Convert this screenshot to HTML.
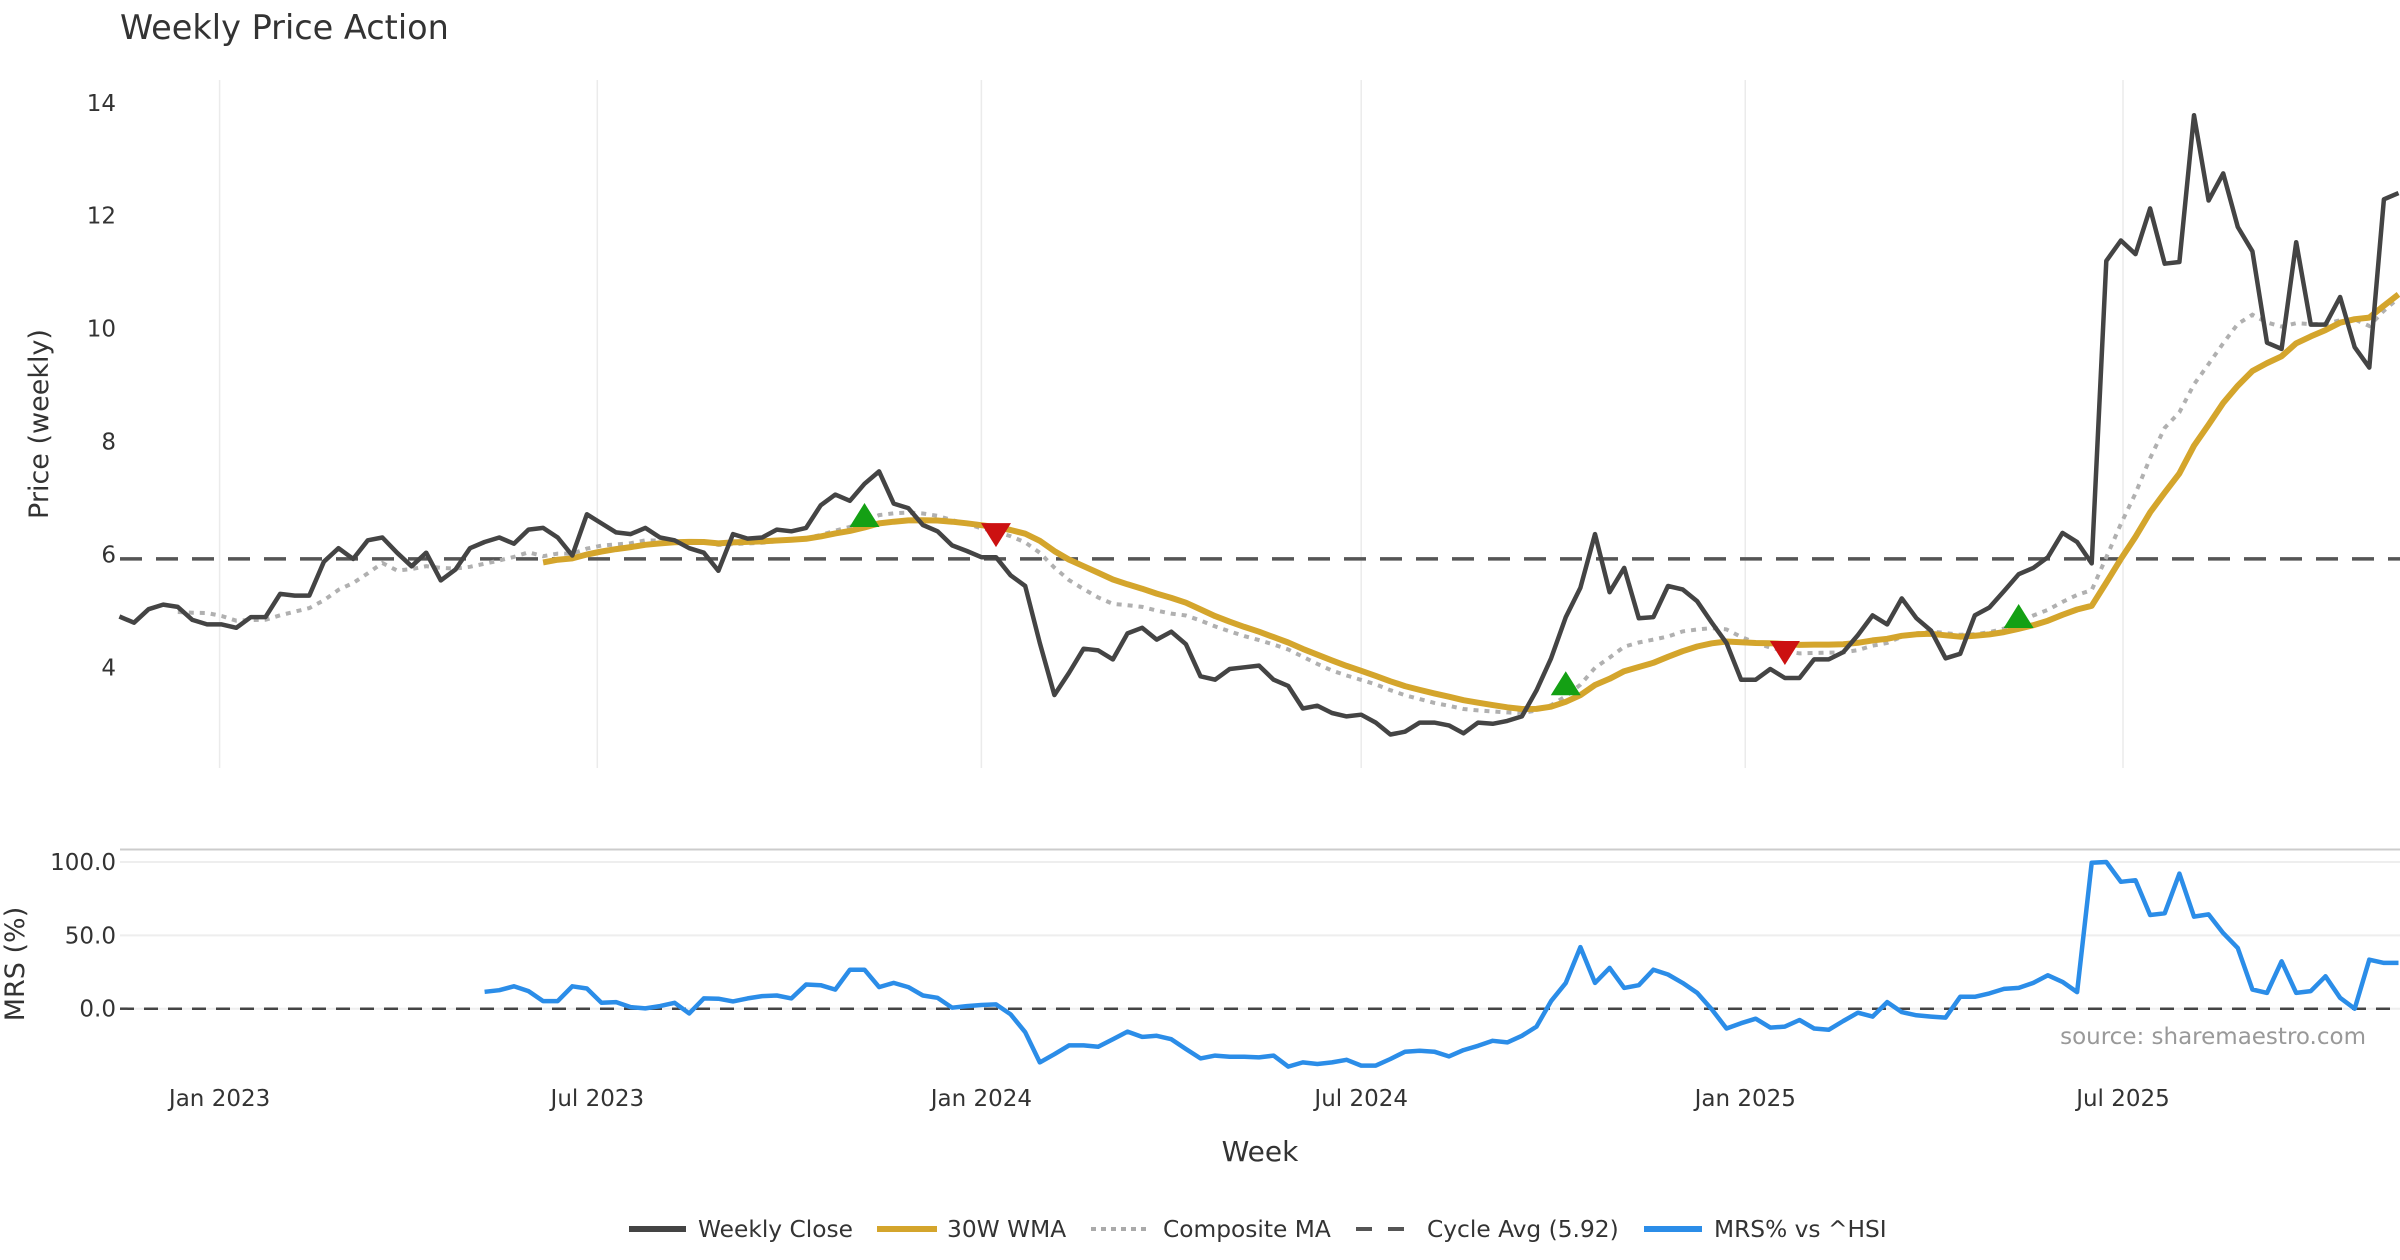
<!DOCTYPE html>
<html><head><meta charset="utf-8"><style>
html,body{margin:0;padding:0;background:#fff;}
svg{display:block;font-family:"DejaVu Sans","Liberation Sans",sans-serif;}
</style></head><body>
<svg id="chart" width="2400" height="1260" viewBox="0 0 2400 1260" xmlns="http://www.w3.org/2000/svg">
<rect width="2400" height="1260" fill="#fff"/>
<text x="120" y="39" font-size="33.5" fill="#333">Weekly Price Action</text>
<g id="grid"></g>
<g id="price"></g>
<g id="mrs"></g>
<g id="axes"></g>
<text transform="translate(48,424) rotate(-90)" text-anchor="middle" font-size="27" fill="#333">Price (weekly)</text>
<text transform="translate(24,964) rotate(-90)" text-anchor="middle" font-size="27" fill="#333">MRS (%)</text>
<text x="1260" y="1161" text-anchor="middle" font-size="28" fill="#333">Week</text>
<text x="2366" y="1044" text-anchor="end" font-size="23" fill="#999">source: sharemaestro.com</text>
<g>
 <g><line x1="629" y1="1229" x2="686" y2="1229" stroke="#444" stroke-width="6"/><text x="698" y="1237" font-size="23.3" fill="#333">Weekly Close</text></g>
 <g><line x1="877" y1="1229" x2="937" y2="1229" stroke="#d4a52c" stroke-width="6"/><text x="947" y="1237" font-size="23.3" fill="#333">30W WMA</text></g>
 <g><line x1="1091" y1="1229" x2="1148" y2="1229" stroke="#aaa" stroke-width="4" stroke-dasharray="5,5"/><text x="1163" y="1237" font-size="23.3" fill="#333">Composite MA</text></g>
 <g><line x1="1356" y1="1229" x2="1411" y2="1229" stroke="#555" stroke-width="4" stroke-dasharray="16,16"/><text x="1427" y="1237" font-size="23.3" fill="#333">Cycle Avg (5.92)</text></g>
 <g><line x1="1644" y1="1229" x2="1702" y2="1229" stroke="#2b8de8" stroke-width="6"/><text x="1714" y="1237" font-size="23.3" fill="#333">MRS% vs ^HSI</text></g>
</g>
</svg>
<script>
const closes = [4.9,4.79,5.03,5.11,5.07,4.84,4.76,4.76,4.70,4.89,
4.89,5.30,5.27,5.27,5.87,6.11,5.92,6.25,6.30,6.03,
5.79,6.03,5.54,5.73,6.11,6.22,6.30,6.19,6.44,6.47,
6.30,5.98,6.71,6.55,6.39,6.36,6.47,6.30,6.25,6.11,
6.03,5.71,6.36,6.28,6.30,6.44,6.41,6.47,6.87,7.06,
6.95,7.25,7.47,6.90,6.82,6.52,6.41,6.16,6.06,5.95,
5.95,5.63,5.44,4.43,3.51,3.90,4.33,4.30,4.14,4.60,
4.70,4.49,4.63,4.41,3.84,3.78,3.97,4.0,4.03,3.78,
3.67,3.27,3.32,3.19,3.13,3.16,3.02,2.81,2.86,3.02,
3.02,2.97,2.83,3.02,3.0,3.05,3.13,3.59,4.16,4.89,
5.41,6.36,5.33,5.76,4.87,4.89,5.44,5.38,5.17,4.79,
4.43,3.78,3.78,3.97,3.81,3.81,4.14,4.14,4.27,4.57,
4.92,4.76,5.22,4.87,4.65,4.16,4.24,4.92,5.06,5.35,
5.65,5.76,5.95,6.38,6.22,5.84,11.2,11.56,11.32,12.13,
11.15,11.18,13.78,12.27,12.75,11.8,11.37,9.75,9.64,11.53,
10.07,10.07,10.56,9.67,9.31,12.29,12.40];
const mrsValues = [11.5,12.6,15.3,12,5.2,5.2,15.3,13.8,4,4.5,
1.1,0.2,1.8,4,-3.2,7,6.8,5,7,8.6,
9,7,16.5,16,13,26.6,26.6,14.7,17.6,14.7,
9,7.4,0.7,1.8,2.5,2.9,-3.8,-16,-36.6,-31,
-25,-25,-26,-20.8,-15.6,-19.2,-18.5,-20.8,-27.5,-33.9,
-32,-32.7,-32.7,-33.2,-32,-39.5,-36.6,-37.7,-36.6,-34.8,
-38.8,-38.8,-34.3,-29.3,-28.7,-29.3,-32.5,-28.2,-25.3,-21.9,
-23,-18.5,-12.2,5.2,17.6,42,17.6,27.8,14.2,16,
26.6,23.3,17.6,10.8,-0.5,-13.5,-9.9,-6.8,-12.9,-12.2,
-7.7,-13.5,-14.4,-8.4,-2.7,-5.4,4.5,-2.3,-4.5,-5.4,
-6.1,8.1,8.1,10.4,13.5,14.2,17.6,22.8,18.3,11.3,
99.5,100,86.5,87.6,63.9,65,92.1,62.8,64.3,51.5,
41.3,13.1,10.8,32.3,10.8,12,22.1,7.4,0,33.4,31.2];
const cycleAvg = 5.92;
const signalIdx = [51,60,99,114,130];
const signalType = ["buy","sell","buy","sell","buy"];
const signalPrice = [6.68,6.36,3.70,4.27,4.89];
const priceTicks = [4,6,8,10,12,14];
const mrsTicks = [0,50,100];
const mrsTickLabels = ["0.0","50.0","100.0"];
const xTickLabels = ["Jan 2023","Jul 2023","Jan 2024","Jul 2024","Jan 2025","Jul 2025"];
const xTickDates = ["2023-01-01","2023-07-01","2024-01-01","2024-07-01","2025-01-01","2025-07-01"];
const startDate = "2022-11-14";

const NS="http://www.w3.org/2000/svg";
function mk(tag,attrs,parent){const e=document.createElementNS(NS,tag);for(const k in attrs)e.setAttribute(k,attrs[k]);parent.appendChild(e);return e;}
const n=closes.length;
const X0=119.4, X1=2398.5;
const t0=Date.parse(startDate);
const WEEK=7*864e5;
function xIdx(i){return X0+i*(X1-X0)/(n-1);}
function xDate(s){return X0+((Date.parse(s)-t0)/WEEK)*(X1-X0)/(n-1);}
function yP(p){return 667.3-(p-4)*56.45;}
function yM(v){return 1008.7-v*1.467;}

const wma=closes.map((_,i)=>{if(i<29)return null;let s=0,w=0;for(let k=0;k<30;k++){const wt=30-k;s+=closes[i-k]*wt;w+=wt;}return s/w;});
function sma(i,p){if(i<p-1)return null;let s=0;for(let k=0;k<p;k++)s+=closes[i-k];return s/p;}
const comp=closes.map((_,i)=>{const a=[sma(i,5),sma(i,10),sma(i,20),sma(i,30)].filter(v=>v!==null);return a.length?a.reduce((x,y)=>x+y,0)/a.length:null;});

const grid=document.getElementById('grid');
const axes=document.getElementById('axes');
const price=document.getElementById('price');
const mrsG=document.getElementById('mrs');

xTickDates.forEach((d,i)=>{
  const x=xDate(d);
  const gl=mk('line',{x1:x,y1:80,x2:x,y2:768,stroke:'#ebebeb','stroke-width':1.5},grid);
  
  
  const t=mk('text',{x:x,y:1106,'text-anchor':'middle','font-size':23,fill:'#333'},axes);
  t.textContent=xTickLabels[i];
  
  
});
priceTicks.forEach(v=>{
  const t=mk('text',{x:116,y:yP(v)+8,'text-anchor':'end','font-size':23,fill:'#333'},axes);
  t.textContent=v;
  
  
});
const border=mk('line',{x1:120,y1:849.5,x2:2400,y2:849.5,stroke:'#ccc','stroke-width':2},grid);


mrsTicks.forEach((v,i)=>{
  const gl=mk('line',{x1:120,y1:yM(v),x2:2400,y2:yM(v),stroke:'#eee','stroke-width':2},grid);
  
  
  const t=mk('text',{x:116,y:yM(v)+8,'text-anchor':'end','font-size':23,fill:'#333'},axes);
  t.textContent=mrsTickLabels[i];
  
  
});
const zl=mk('line',{x1:120,y1:yM(0),x2:2400,y2:yM(0),stroke:'#444','stroke-width':2.5,'stroke-dasharray':'14,10'},mrsG);



const ca=mk('line',{x1:120,y1:yP(cycleAvg),x2:2400,y2:yP(cycleAvg),stroke:'#555','stroke-width':3.5,'stroke-dasharray':'22,14'},price);



function pathOf(arr,yf,offset){let d='';arr.forEach((v,i)=>{if(v===null)return;const x=xIdx(i+offset),y=yf(v);d+=(d?'L':'M')+x.toFixed(1)+','+y.toFixed(1);});return d;}
const cp=mk('path',{d:pathOf(comp,yP,0),fill:'none',stroke:'#b0b0b0','stroke-width':4,'stroke-dasharray':'5,6'},price);


const wp=mk('path',{d:pathOf(wma,yP,0),fill:'none',stroke:'#d4a52c','stroke-width':6,'stroke-linejoin':'round'},price);


const clp=mk('path',{d:pathOf(closes,yP,0),fill:'none',stroke:'#444','stroke-width':4.5,'stroke-linejoin':'round'},price);



signalIdx.forEach((idx,k)=>{
  const x=xIdx(idx),y=yP(signalPrice[k]);
  let pts;
  if(signalType[k]==='buy') pts=`${x-15},${y+11} ${x+15},${y+11} ${x},${y-13}`;
  else pts=`${x-15},${y-11} ${x+15},${y-11} ${x},${y+13}`;
  const tri=mk('polygon',{points:pts,fill:signalType[k]==='buy'?'#14a014':'#cc1111'},price);
  
  
});

const mOff=n-mrsValues.length-1;
const mp=mk('path',{d:pathOf(mrsValues,yM,mOff)+'L'+xIdx(n-1).toFixed(1)+','+yM(mrsValues[mrsValues.length-1]).toFixed(1),fill:'none',stroke:'#2b8de8','stroke-width':4.5,'stroke-linejoin':'round'},mrsG);


</script>
</body></html>
